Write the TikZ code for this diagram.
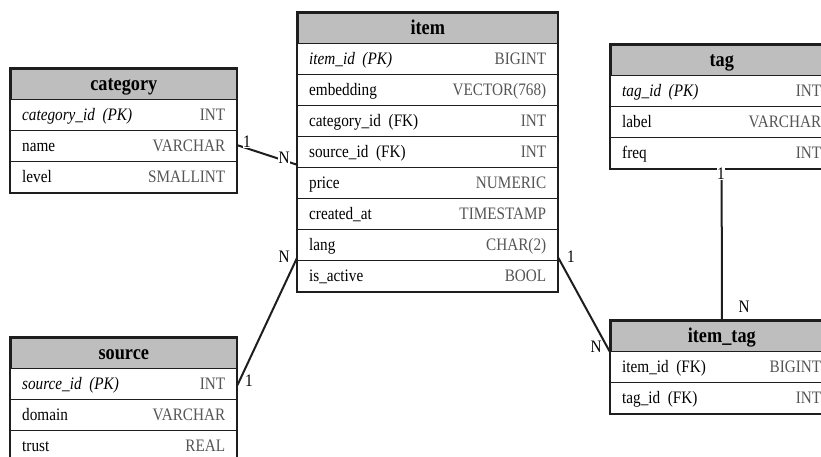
\documentclass[tikz,border=0pt]{standalone}
\usepackage{fontspec}
\setmainfont{Liberation Serif}[FakeStretch=0.87]
\usetikzlibrary{calc}
\definecolor{hdrfill}{HTML}{BEBEBE}
\definecolor{typcol}{HTML}{555555}
\definecolor{edgecol}{HTML}{1E1E1E}
\tikzset{
  x=1pt, y=-1pt,
  hdrbox/.style={draw=edgecol, line width=1.6pt, fill=hdrfill, minimum height=30.5pt, inner sep=0pt, anchor=north west},
  hdrtext/.style={anchor=base, inner sep=0pt, font=\bfseries\fontsize{21}{21}\selectfont},
  rowbox/.style={draw=edgecol, line width=1.4pt, fill=white, minimum height=31pt, inner sep=0pt, anchor=north west},
  fldtext/.style={anchor=base west, inner sep=0pt, font=\fontsize{17.5}{17.5}\selectfont},
  typtext/.style={anchor=base east, inner sep=0pt, text=typcol, font=\fontsize{17.5}{17.5}\selectfont},
  frame/.style={draw=edgecol, line width=2pt},
  conn/.style={draw=edgecol, line width=2pt},
  card/.style={fill=white, inner sep=0.5pt, font=\fontsize{17.5}{17.5}\selectfont}
}
% #1 name, #2 x, #3 y, #4 width, #5 title, #6 number of rows, #7 rows
\newcommand\erdtable[7]{%
  \node[hdrbox, minimum width=#4pt] (#1-h) at (#2,#3) {};
  \node[hdrtext] (#1-ht) at ($(#1-h.center)+(0,6.5)$) {#5};
  \foreach \f/\t [count=\i] in {#7} {
    \pgfmathsetmacro\yy{#3+30.5+(\i-1)*31}
    \node[rowbox, minimum width=#4pt] (#1-\i) at (#2,\yy) {};
    \node[fldtext] (#1-\i-f) at ($(#1-\i.west)+(12,5.3)$) {\f};
    \node[typtext] (#1-\i-t) at ($(#1-\i.east)+(-12,5.3)$) {\t};
  }
  \draw[frame] (#1-h.north west) rectangle (#1-#6.south east);
}
\begin{document}
\begin{tikzpicture}
\useasboundingbox (0,0) rectangle (821,456);
\begin{scope}
\clip (0,0) rectangle (821,456);
\erdtable{category}{10}{68}{226}{category}{3}{{\textit{category\_id\ \ (PK)}}/INT, name/VARCHAR, level/SMALLINT}
\erdtable{item}{297}{12}{260}{item}{8}{{\textit{item\_id\ \ (PK)}}/BIGINT, embedding/VECTOR(768), {category\_id\ \ (FK)}/INT, {source\_id\ \ (FK)}/INT, price/NUMERIC, created\_at/TIMESTAMP, lang/CHAR(2), is\_active/BOOL}
\erdtable{tag}{610}{44}{222}{tag}{3}{{\textit{tag\_id\ \ (PK)}}/INT, label/VARCHAR, freq/INT}
\erdtable{itemtag}{610}{320}{222}{item\_tag}{2}{{item\_id\ \ (FK)}/BIGINT, {tag\_id\ \ (FK)}/INT}
\erdtable{source}{10}{337}{226}{source}{3}{{\textit{source\_id\ \ (PK)}}/INT, domain/VARCHAR, trust/REAL}

\coordinate (c1) at ($(category-2.east)+(0,-0.5)$);
\coordinate (c2) at ($(item-4.west)+(0,13)$);
\coordinate (s1) at ($(source-1.east)+(0,1.5)$);
\coordinate (s2) at ($(item-7.south west)+(0,-3)$);
\coordinate (t1) at ($(item-7.south east)+(0,-3)$);
\draw[conn] (c1) -- (c2);
\draw[conn] (s1) -- (s2);
\draw[conn] (t1) -- (itemtag-h.south west);
\draw[conn] (tag-3.south) -- (itemtag-h.north);

\node[card] (l1) at (247,142) {1};
\node[card] (l2) at (284,158) {N};
\node[card] (l3) at (284,257) {N};
\node[card] (l4) at (249,381) {1};
\node[card] (l5) at (571,257) {1};
\node[card] (l6) at (596,347) {N};
\node[card] (l7) at (721,174) {1};
\node[card] (l8) at (744,307) {N};
\end{scope}
\end{tikzpicture}
\end{document}
